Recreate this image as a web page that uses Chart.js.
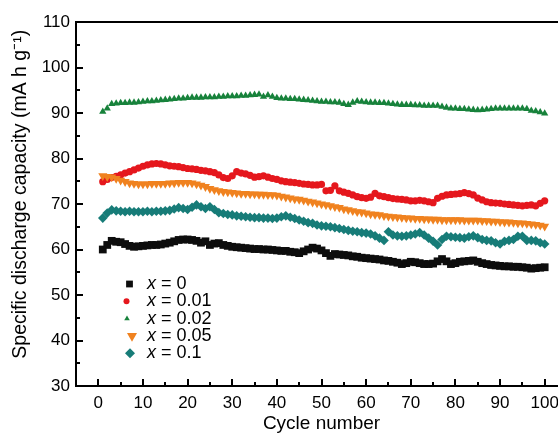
<!DOCTYPE html>
<html><head><meta charset="utf-8">
<script src="https://cdn.jsdelivr.net/npm/chart.js@4.4.1/dist/chart.umd.min.js"></script>
<style>html,body{margin:0;padding:0;background:#fff;overflow:hidden;width:558px;height:433px}#wrap{width:574px;height:433px}</style>
</head><body><div id="wrap"><canvas id="c" width="574" height="433"></canvas></div>
<script>
const cycles = [1,2,3,4,5,6,7,8,9,10,11,12,13,14,15,16,17,18,19,20,21,22,23,24,25,26,27,28,29,30,31,32,33,34,35,36,37,38,39,40,41,42,43,44,45,46,47,48,49,50,51,52,53,54,55,56,57,58,59,60,61,62,63,64,65,66,67,68,69,70,71,72,73,74,75,76,77,78,79,80,81,82,83,84,85,86,87,88,89,90,91,92,93,94,95,96,97,98,99,100];
const seriesNames = ['0','0.01','0.02','0.05','0.1'];
const cap_x0 = [60.0,61.0,61.9,61.7,61.6,61.2,60.8,60.6,60.7,60.8,
60.9,61.0,61.0,61.1,61.3,61.5,61.8,62.1,62.2,62.2,
62.1,61.9,61.5,61.8,61.0,61.3,61.4,61.0,60.8,60.6,
60.5,60.4,60.3,60.2,60.1,60.1,60.0,60.0,59.9,59.8,
59.7,59.7,59.5,59.4,59.2,59.6,60.0,60.4,60.2,59.8,
59.2,58.6,59.0,58.9,58.8,58.7,58.5,58.4,58.2,58.1,
58.0,57.9,57.8,57.6,57.5,57.3,57.1,56.8,57.0,57.3,
57.2,57.0,56.8,56.8,56.9,57.4,57.9,57.4,56.8,57.0,
57.3,57.4,57.5,57.6,57.3,57.0,56.8,56.6,56.5,56.4,
56.3,56.3,56.2,56.2,56.1,56.0,55.8,55.9,56.0,56.1];
const cap_x001 = [74.9,75.4,75.8,76.1,76.4,76.8,77.1,77.5,77.9,78.3,
78.6,78.8,78.9,78.8,78.6,78.4,78.3,78.2,78.0,77.8,
77.7,77.6,77.4,77.3,77.1,76.9,76.4,75.8,75.6,76.2,
77.1,76.8,76.6,76.3,75.9,76.0,76.2,75.9,75.6,75.4,
75.1,74.9,74.8,74.7,74.55,74.4,74.3,74.2,74.2,74.3,
72.9,73.0,74.0,72.9,72.6,72.35,72.0,71.6,71.4,71.25,
71.5,72.35,71.8,71.6,71.4,71.2,71.1,71.0,70.9,70.7,
70.7,70.8,70.7,70.5,70.3,71.25,71.7,72.0,72.1,72.2,
72.3,72.5,72.3,72.0,71.3,70.9,70.5,70.3,70.2,70.15,
70.0,69.9,69.8,69.7,69.6,69.7,69.8,69.6,70.15,70.7];
const cap_x002 = [90.3,91.0,92.0,92.1,92.2,92.2,92.3,92.3,92.4,92.5,
92.6,92.6,92.7,92.8,92.9,93.0,93.1,93.2,93.2,93.3,
93.4,93.4,93.4,93.5,93.5,93.5,93.6,93.6,93.7,93.7,
93.7,93.8,93.8,93.9,94.0,94.1,93.6,93.9,93.6,93.3,
93.2,93.2,93.1,93.1,93.0,92.9,92.8,92.7,92.6,92.5,
92.5,92.4,92.4,92.3,92.0,91.8,92.3,92.6,92.5,92.4,
92.3,92.3,92.2,92.2,92.1,92.0,91.9,91.8,91.8,91.8,
91.7,91.7,91.6,91.6,91.6,91.6,91.4,91.2,91.0,91.0,
90.9,90.9,90.8,90.7,90.6,90.7,90.8,90.9,91.0,91.0,
91.0,91.0,91.0,91.0,91.0,90.9,90.5,90.4,90.2,89.9];
const cap_x005 = [76.2,76.0,75.9,75.6,75.2,74.9,74.6,74.5,74.4,74.4,
74.4,74.5,74.5,74.5,74.5,74.6,74.6,74.7,74.7,74.7,
74.6,74.4,74.1,73.8,73.4,73.1,72.9,72.7,72.6,72.5,
72.4,72.3,72.3,72.2,72.2,72.1,72.1,72.0,72.0,71.9,
71.7,71.5,71.3,71.1,71.0,70.8,70.6,70.4,70.2,70.0,
69.8,69.6,69.4,69.2,68.9,68.7,68.5,68.3,68.2,68.0,
67.8,67.7,67.6,67.4,67.3,67.2,67.1,67.0,66.9,66.9,
66.8,66.8,66.7,66.7,66.6,66.6,66.5,66.5,66.5,66.5,
66.5,66.4,66.4,66.4,66.4,66.3,66.3,66.2,66.2,66.1,
66.0,66.0,65.9,65.8,65.8,65.7,65.6,65.5,65.3,65.1];
const cap_x01 = [66.9,68.0,68.7,68.5,68.4,68.3,68.4,68.3,68.3,68.3,
68.4,68.3,68.4,68.4,68.5,68.6,68.9,69.2,69.0,68.8,
69.3,69.8,69.4,69.0,69.4,68.8,68.1,67.9,67.7,67.6,
67.4,67.3,67.2,67.1,67.0,67.0,66.9,66.9,66.8,66.9,
67.2,67.4,67.1,66.8,66.5,66.2,65.9,65.75,65.4,65.2,
65.1,65.0,64.8,64.6,64.4,64.2,64.0,63.9,63.7,63.6,
63.4,63.0,62.5,62.0,63.9,63.2,63.0,62.9,63.0,63.2,
63.4,63.7,63.2,62.5,61.8,61.0,62.2,62.9,62.8,62.7,
62.6,62.5,62.8,63.0,62.6,62.2,62.0,61.9,61.5,61.2,
61.8,62.0,62.2,62.9,62.9,62.0,62.0,61.9,61.5,61.2];
const xTickValues = [0,10,20,30,40,50,60,70,80,90,100];
const yTickValues = [30,40,50,60,70,80,90,100,110];

const FONT = '"Liberation Sans", Arial, sans-serif';
const styles = [
  {color:'#0d0d0d', shape:'rect', r:5.5, rot:0},
  {color:'#e5171d', shape:'circle', r:3.6, rot:0},
  {color:'#17823b', shape:'triangle', r:4.2, rot:0},
  {color:'#f0821f', shape:'triangle', r:5.2, rot:180},
  {color:'#177c78', shape:'rectRot', r:4.8, rot:0}
];
const allSeries = [cap_x0, cap_x001, cap_x002, cap_x005, cap_x01];
const orders = [0,4,3,2,1];
const datasets = allSeries.map((s,i)=>({
  label:'x = '+seriesNames[i],
  data: s.map((v,j)=>({x:cycles[j], y:v})),
  pointStyle: styles[i].shape,
  pointRadius: styles[i].r,
  pointRotation: styles[i].rot,
  pointBackgroundColor: styles[i].color,
  pointBorderColor: styles[i].color,
  pointBorderWidth: 0,
  showLine:false,
  order: orders[i]
}));

function drawShape(ctx, st, x, y, r){
  ctx.fillStyle = st.color;
  ctx.beginPath();
  if(st.shape==='rect'){ const s=r*Math.SQRT1_2; ctx.rect(x-s,y-s,2*s,2*s); }
  else if(st.shape==='circle'){ ctx.arc(x,y,r,0,Math.PI*2); }
  else if(st.shape==='rectRot'){ ctx.moveTo(x,y-r); ctx.lineTo(x+r,y); ctx.lineTo(x,y+r); ctx.lineTo(x-r,y); ctx.closePath(); }
  else if(st.shape==='triangle'){
    const sgn = st.rot===180?-1:1;
    const h = r*Math.sqrt(3)/2;
    ctx.moveTo(x, y - sgn*r); ctx.lineTo(x + h, y + sgn*r/2); ctx.lineTo(x - h, y + sgn*r/2); ctx.closePath();
  }
  ctx.fill();
}

const frame = {
  id:'frame',
  afterDraw(chart){
    const ctx=chart.ctx, a=chart.chartArea, xs=chart.scales.x, ys=chart.scales.y;
    ctx.save();
    ctx.strokeStyle='#000'; ctx.lineWidth=2;
    ctx.beginPath(); ctx.moveTo(a.left-1, a.top); ctx.lineTo(a.right+2, a.top); ctx.stroke();
    xs.ticks.forEach(t=>{
      if(t.value<=xs.min) return;
      const p=Math.round(xs.getPixelForValue(t.value));
      const L = xTickValues.includes(t.value)?7:4;
      ctx.beginPath(); ctx.moveTo(p, a.bottom); ctx.lineTo(p, a.bottom-L); ctx.stroke();
    });
    ys.ticks.forEach(t=>{
      if(t.value<=ys.min || t.value>=ys.max) return;
      const p=Math.round(ys.getPixelForValue(t.value));
      const L = yTickValues.includes(t.value)?7:4;
      ctx.beginPath(); ctx.moveTo(a.left, p); ctx.lineTo(a.left+L, p); ctx.stroke();
    });
    // legend
    const legR = [4.8, 3.0, 3.2, 5.8, 5.0];
    const legX = [129.5, 126.5, 127, 132, 130];
    ctx.textBaseline='middle'; ctx.textAlign='left';
    seriesNames.forEach((n,i)=>{
      const y = 284 + i*17.3;
      drawShape(ctx, styles[i], legX[i], y, legR[i]);
      ctx.fillStyle='#000';
      ctx.font = 'italic 18px '+FONT;
      ctx.fillText('x', 147, y);
      const w = ctx.measureText('x').width;
      ctx.font = '18px '+FONT;
      ctx.fillText(' = '+n, 147+w, y);
    });
    ctx.restore();
  }
};

new Chart(document.getElementById('c'), {
  type:'scatter',
  data:{datasets},
  options:{
    responsive:false, animation:false, events:[], devicePixelRatio:1,
    layout:{padding:{top:22,left:0,right:0,bottom:0}},
    plugins:{legend:{display:false}, tooltip:{enabled:false}},
    scales:{
      x:{type:'linear', min:-5, max:105,
        grid:{display:false, drawTicks:false},
        border:{display:true, width:2, color:'#000'},
        ticks:{stepSize:5, autoSkip:false, maxRotation:0, padding:7, color:'#000', font:{family:FONT, size:17},
          callback:(v)=> xTickValues.includes(v)? String(v):''},
        title:{display:true, text:'Cycle number', color:'#000', font:{family:FONT, size:19}, padding:{top:0,bottom:-2}},
        afterFit:(s)=>{s.height=47;}
      },
      y:{type:'linear', min:30, max:110,
        grid:{display:false, drawTicks:false},
        border:{display:true, width:2, color:'#000'},
        ticks:{stepSize:5, autoSkip:false, padding:6, color:'#000', font:{family:FONT, size:17},
          callback:(v)=> yTickValues.includes(v)? String(v):''},
        title:{display:true, text:'\u2002\u2002Specific discharge capacity (mA h g\u207B\u00B9)', color:'#000', font:{family:FONT, size:19.5}, padding:{top:9,bottom:0}},
        afterFit:(s)=>{s.width=76;}
      }
    }
  },
  plugins:[frame]
});
</script></body></html>
